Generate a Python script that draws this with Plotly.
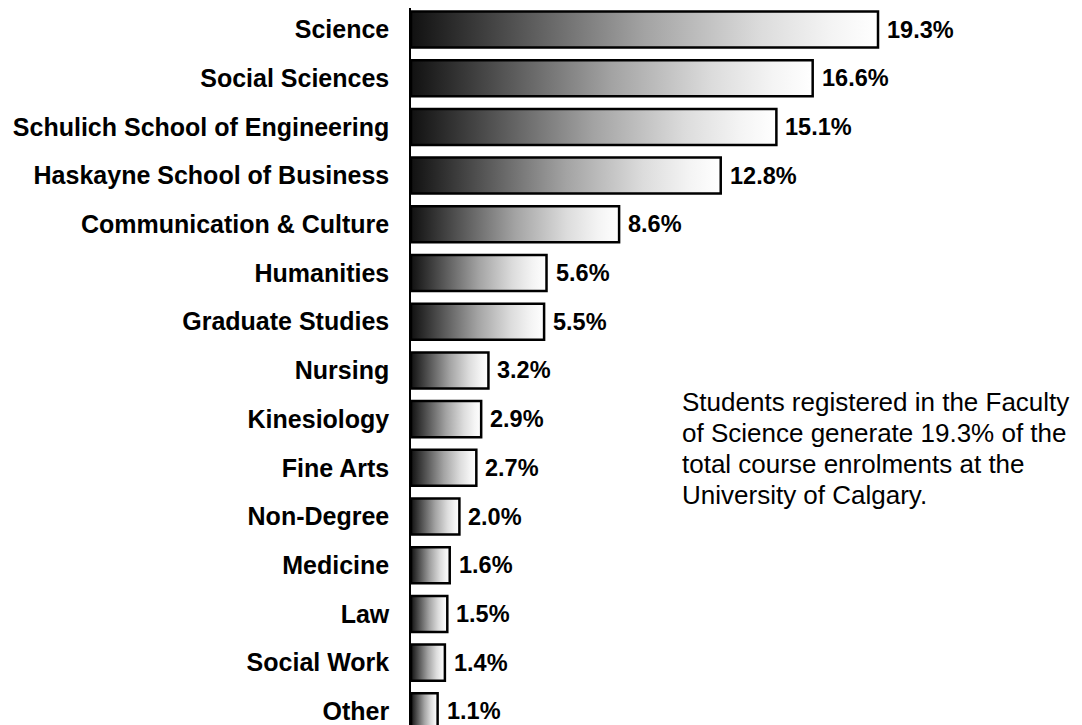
import plotly.graph_objects as go

categories = ["Science", "Social Sciences", "Schulich School of Engineering",
              "Haskayne School of Business", "Communication & Culture", "Humanities",
              "Graduate Studies", "Nursing", "Kinesiology", "Fine Arts", "Non-Degree",
              "Medicine", "Law", "Social Work", "Other"]
values = [19.3, 16.6, 15.1, 12.8, 8.6, 5.6, 5.5, 3.2, 2.9, 2.7, 2.0, 1.6, 1.5, 1.4, 1.1]
value_labels = [f"{v:.1f}%" for v in values]
note_lines = ["Students registered in the Faculty",
              "of Science generate 19.3% of the",
              "total course enrolments at the",
              "University of Calgary."]

FONT = "Liberation Sans, Arial, sans-serif"
half = 0.37
grad = [[0, "#111111"], [0.25, "#5a5a5a"], [0.5, "#a3a3a3"],
        [0.75, "#dcdcdc"], [0.9, "#f4f4f4"], [1, "#ffffff"]]

fig = go.Figure()
for i, v in enumerate(values):
    fig.add_trace(go.Scatter(
        x=[0, v, v, 0, 0],
        y=[i - half, i - half, i + half, i + half, i - half],
        mode="lines", fill="toself",
        fillgradient=dict(type="horizontal", colorscale=grad),
        line=dict(color="black", width=2.5),
        hoverinfo="skip", showlegend=False,
    ))
    fig.add_annotation(x=v, y=i, text=value_labels[i], showarrow=False,
                       xanchor="left", yanchor="middle", xshift=7,
                       font=dict(family=FONT, size=23.5, color="black", weight="bold"))

note_y0 = 7.64
note_step = 0.637
for k, line in enumerate(note_lines):
    fig.add_annotation(x=11.12, y=note_y0 + k * note_step, text=line, showarrow=False,
                       xanchor="left", yanchor="middle", align="left",
                       font=dict(family=FONT, size=26, color="black"))

fig.update_layout(
    width=1074, height=717,
    margin=dict(l=403, r=0, t=0, b=0),
    paper_bgcolor="white", plot_bgcolor="white",
    xaxis=dict(range=[0, 27.73], showgrid=False, zeroline=False, showticklabels=False,
               showline=False, ticks=""),
    yaxis=dict(range=[14.281, -0.4415], tickvals=list(range(len(categories))),
               ticktext=categories, showgrid=False, zeroline=False,
               showline=True, linecolor="black", linewidth=1.5, ticks="",
               ticklabelstandoff=15, ticklabeloverflow="allow",
               tickfont=dict(family=FONT, size=25, color="black", weight="bold")),
)

fig.write_html("out.html")
